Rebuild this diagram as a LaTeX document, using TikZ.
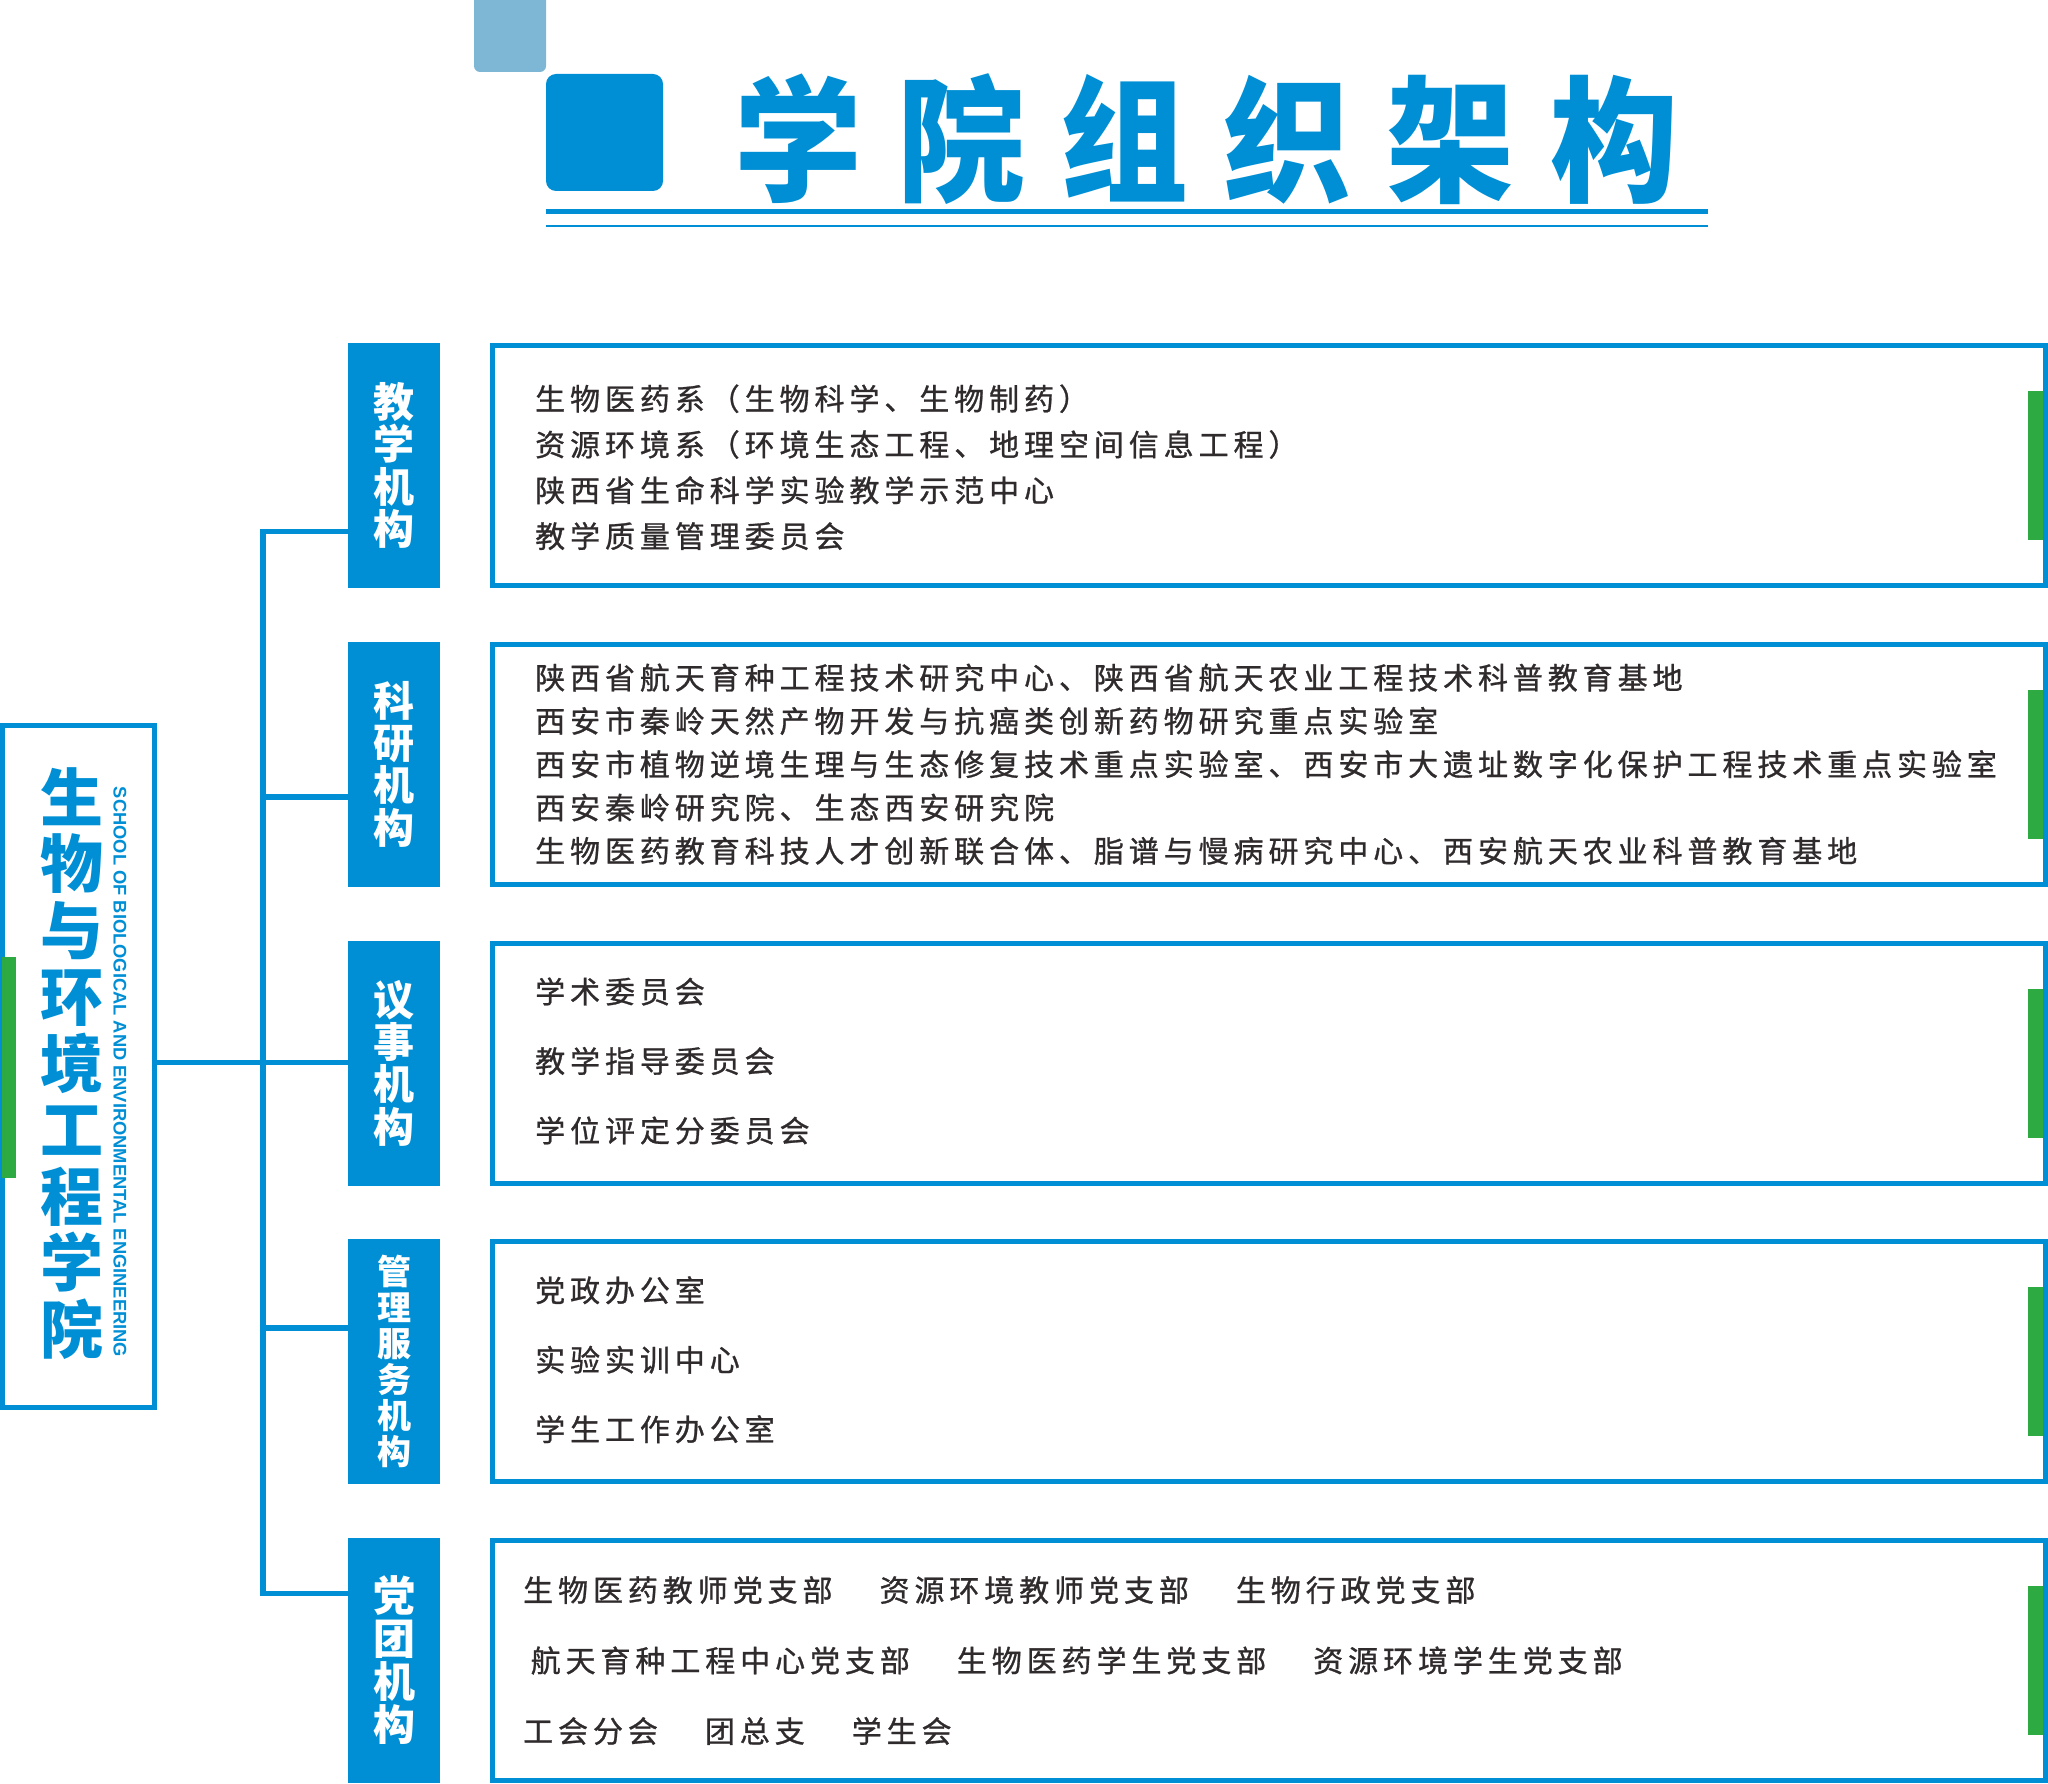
\documentclass[tikz,border=0pt]{standalone}
\usepackage{fontspec}
\usetikzlibrary{positioning}
\newfontfamily\cjktext[LetterSpace=16.4,FakeBold=0.9]{Noto Sans CJK SC}
\newfontfamily\cjkhead[LetterSpace=26,FakeStretch=0.94]{Noto Sans CJK SC}
\newfontfamily\cjklabel{Noto Sans CJK SC}
\newfontfamily\schoolfont{Liberation Sans}
\definecolor{college_blue}{HTML}{008FD5}
\definecolor{college_lightblue}{HTML}{7EB6D6}
\definecolor{college_green}{HTML}{2EAA42}
\definecolor{college_gray}{HTML}{2F2A2B}
\colorlet{collegeblue}{college_blue}
\colorlet{shadeblue}{college_lightblue}
\colorlet{markgreen}{college_green}
\colorlet{textgray}{college_gray}
\newcommand{\partgap}{\hspace{47pt}}
\tikzset{
  titlesq/.style={rectangle,fill=collegeblue,minimum size=117pt,rounded corners=10pt,inner sep=0pt,outer sep=0pt},
  titleshade/.style={rectangle,fill=shadeblue,minimum width=72pt,minimum height=90pt,rounded corners=6pt,inner sep=0pt,outer sep=0pt},
  titletext/.style={anchor=base west,inner sep=0pt,text=collegeblue,font=\cjkhead\bfseries\fontsize{136}{136}\selectfont},
  titlerule/.style={collegeblue,line width=5pt},
  catbox/.style={rectangle,fill=collegeblue,text=white,minimum width=92pt,minimum height=245pt,inner sep=0pt,outer sep=0pt,align=center,font=\cjklabel\bfseries\fontsize{41}{42.3}\selectfont},
  infobox/.style={rectangle,draw=collegeblue,line width=5pt,minimum width=1553pt,minimum height=240pt,inner sep=0pt},
  itemlist/.style={anchor=west,inner sep=0pt,align=left,text=textgray,font=\cjktext\fontsize{30}{#1}\selectfont},
  greenmark/.style={rectangle,fill=markgreen,minimum width=15pt,minimum height=149pt,inner sep=0pt,outer sep=0pt},
  schoolbox/.style={rectangle,draw=collegeblue,line width=5pt,minimum width=152pt,minimum height=682pt,inner sep=0pt},
  schooltitle/.style={inner sep=0pt,align=center,text=collegeblue,font=\cjklabel\bfseries\fontsize{63}{66.5}\selectfont},
  schooltag/.style={inner sep=0pt,text=collegeblue,font=\schoolfont\bfseries\fontsize{18.3}{20}\selectfont},
  link/.style={draw=collegeblue,line width=5.5pt},
}

\begin{document}
\begin{tikzpicture}[x=1pt,y=-1pt]
  \useasboundingbox (0,0) rectangle (2048,1784);
  % title
  \node[titlesq] (titlesquare) at (604.5,132.5) {};
  \node[titleshade,anchor=south east] (titleshadow) at ([yshift=2pt]titlesquare.north west) {};
  \node[titletext] (title) at (734,192) {学院组织架构};
  \draw[titlerule] ([yshift=-20.5pt]titlesquare.south west) -- ++(1162,0);
  \draw[titlerule,line width=2pt] ([yshift=-35pt]titlesquare.south west) -- ++(1162,0);

  % school
  \node[schoolbox] (school) at (78.5,1066.5) {};
  \node[greenmark,minimum width=14pt,minimum height=221pt,anchor=west] (greenleft) at ([xshift=1.5pt,yshift=-1pt]school.west) {};
  \node[schooltitle] (schoolname) at ([xshift=-7pt,yshift=3pt]school.center) {生\\物\\与\\环\\境\\工\\程\\学\\院};
  \node[schooltag,rotate=-90] (schoolen) at ([xshift=41.5pt,yshift=-5.5pt]school.center) {SCHOOL OF BIOLOGICAL AND ENVIRONMENTAL ENGINEERING};

  % categories
  \node[catbox] (cat1) at (394,465.5) {教\\学\\机\\构};
  \node[catbox,below=53.75pt of cat1] (cat2) {科\\研\\机\\构};
  \node[catbox,below=53.75pt of cat2] (cat3) {议\\事\\机\\构};
  \node[catbox,below=53.75pt of cat3,font=\cjklabel\bfseries\fontsize{34}{36}\selectfont] (cat4) {管\\理\\服\\务\\机\\构};
  \node[catbox,below=53.75pt of cat4,font=\cjklabel\bfseries\fontsize{42}{43}\selectfont] (cat5) {党\\团\\机\\构};

  \node[infobox,right=50pt of cat1] (info1) {};
  \node[infobox,right=50pt of cat2] (info2) {};
  \node[infobox,right=50pt of cat3] (info3) {};
  \node[infobox,right=50pt of cat4] (info4) {};
  \node[infobox,right=50pt of cat5] (info5) {};
  \foreach \i in {1,...,5}
    \node[greenmark,anchor=east] (green\i) at ([xshift=-5pt]info\i.east) {};

  % lists
  \node[itemlist=45.8] (list1) at ([xshift=45pt,yshift=-1.75pt]info1.west) {生物医药系（生物科学、生物制药）\\资源环境系（环境生态工程、地理空间信息工程）\\陕西省生命科学实验教学示范中心\\教学质量管理委员会};
  \node[itemlist=43.3] (list2) at ([xshift=45pt]info2.west) {陕西省航天育种工程技术研究中心、陕西省航天农业工程技术科普教育基地\\西安市秦岭天然产物开发与抗癌类创新药物研究重点实验室\\西安市植物逆境生理与生态修复技术重点实验室、西安市大遗址数字化保护工程技术重点实验室\\西安秦岭研究院、生态西安研究院\\生物医药教育科技人才创新联合体、脂谱与慢病研究中心、西安航天农业科普教育基地};
  \node[itemlist=69.5] (list3) at ([xshift=45pt,yshift=2pt]info3.west) {学术委员会\\教学指导委员会\\学位评定分委员会};
  \node[itemlist=69.5] (list4) at ([xshift=45pt,yshift=2pt]info4.west) {党政办公室\\实验实训中心\\学生工作办公室};
  \node[itemlist=70.5] (list5) at ([xshift=33pt]info5.west) {生物医药教师党支部\partgap 资源环境教师党支部\partgap 生物行政党支部\\\hspace{7.5pt}航天育种工程中心党支部\partgap 生物医药学生党支部\partgap 资源环境学生党支部\\工会分会\partgap 团总支\partgap 学生会};

  % links
  \foreach \i in {1,...,5}
    \coordinate (j\i) at (263,{531.5+(\i-1)*265.5});
  \draw[link] (cat1.west |- j1) -- (j1) -- (j5) -- (cat5.west |- j5);
  \foreach \i in {2,3,4}
    \draw[link] (j\i) -- (cat\i.west |- j\i);
  \draw[link] (school.east |- j3) -- (j3);
\end{tikzpicture}
\end{document}
